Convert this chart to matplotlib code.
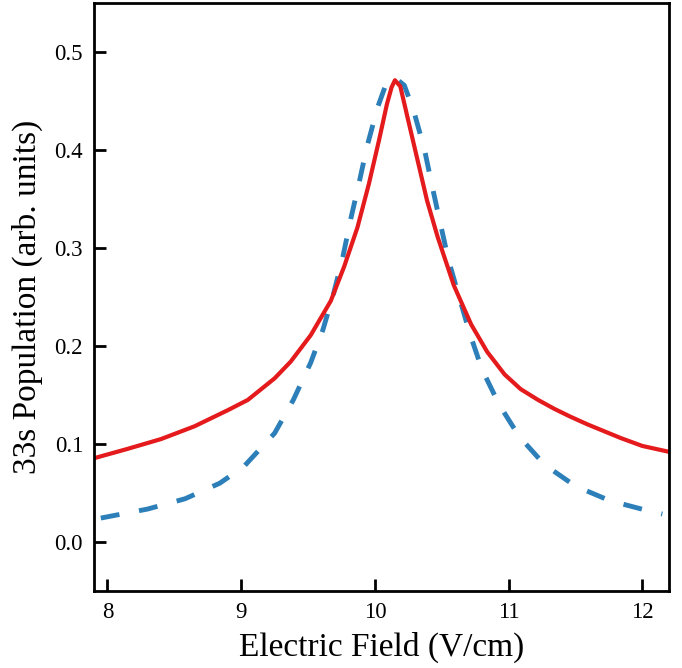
import matplotlib
matplotlib.use("Agg")
from matplotlib import pyplot as plt

# values
red_x = [7.90, 8.15, 8.40, 8.65, 8.90, 9.05, 9.25, 9.37, 9.52, 9.67, 9.77,
         9.87, 9.955, 10.03, 10.09, 10.125, 10.15, 10.19, 10.25, 10.32,
         10.39, 10.47, 10.59, 10.72, 10.84, 10.97, 11.09, 11.22, 11.34,
         11.46, 11.59, 11.84, 12.00, 12.20]
red_y = [0.0855, 0.0950, 0.1050, 0.1180, 0.1345, 0.1450, 0.1670, 0.1840,
         0.2110, 0.2460, 0.2810, 0.3212, 0.3654, 0.4095, 0.4468, 0.4640,
         0.4712, 0.4650, 0.4298, 0.3891, 0.3484, 0.3110, 0.2620, 0.2220,
         0.1940, 0.1710, 0.1560, 0.1450, 0.1360, 0.1280, 0.1200, 0.1060,
         0.0980, 0.0920]

blue_x = [7.95, 8.30, 8.58, 8.84, 9.02, 9.25, 9.39, 9.52, 9.61, 9.69,
          9.76, 9.82, 9.88, 9.94, 10.02, 10.08, 10.15, 10.22, 10.29, 10.37,
          10.43, 10.49, 10.55, 10.63, 10.71, 10.80, 10.93, 11.08, 11.27,
          11.50, 11.76, 12.04, 12.15]
blue_y = [0.0244, 0.0336, 0.0441, 0.0600, 0.0770, 0.1110, 0.1450,
          0.1830, 0.2160, 0.2530, 0.2907, 0.3300, 0.3654, 0.4030, 0.4434,
          0.4660, 0.4737, 0.4660, 0.4400, 0.4010, 0.3620, 0.3247, 0.2880,
          0.2500, 0.2127, 0.1765, 0.1400, 0.1075, 0.0787, 0.0570, 0.0420,
          0.0320, 0.0285]

x_ticks = [8, 9, 10, 11, 12]
y_ticks = [0.0, 0.1, 0.2, 0.3, 0.4, 0.5]

plt.rcParams["font.family"] = ["Liberation Serif", "DejaVu Serif"]

fig = plt.figure(figsize=(6.82, 6.68), dpi=100)
ax = fig.add_axes([0.138, 0.1153, 0.843, 0.8802])

ax.plot(blue_x, blue_y, color="#2c7fb8", linewidth=3.5,
        linestyle=(0, (3.9, 4.1)))
ax.plot(red_x, red_y, color="#e41a1c", linewidth=3.0)

ax.set_xlim(7.9, 12.2)
ax.set_ylim(-0.05, 0.55)
ax.set_xticks(x_ticks)
ax.set_yticks(y_ticks)
ax.set_xticklabels([str(t) for t in x_ticks])
ax.set_yticklabels(["%.1f" % t for t in y_ticks])

for s in ax.spines.values():
    s.set_linewidth(2.0)
ax.tick_params(direction="in", length=8.5, width=2.0, labelsize=16.5,
               pad=8, top=False, right=False)

ax.set_xlabel("Electric Field (V/cm)", fontsize=24, labelpad=6)
ax.set_ylabel("33s Population (arb. units)", fontsize=24, labelpad=8)

fig.savefig("out.png", dpi=100)
